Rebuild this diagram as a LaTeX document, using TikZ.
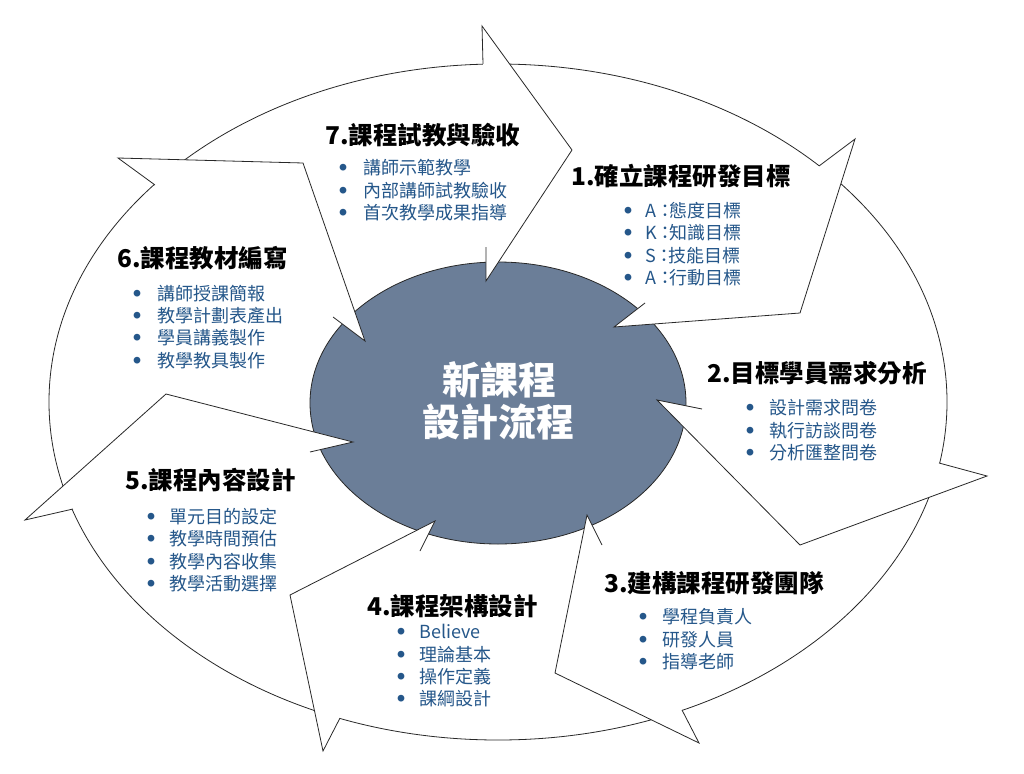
\documentclass[tikz,border=0pt]{standalone}
\usepackage{fontspec}
\setmainfont{Noto Sans CJK TC}
\definecolor{ellgrey}{RGB}{107,126,152}
\definecolor{bultext}{RGB}{37,87,138}
\definecolor{edge}{RGB}{40,40,40}
\tikzset{
  ring/.style={draw=edge, line width=0.8pt, line join=miter},
  ttl/.style={font=\fontsize{24.5}{28}\selectfont\bfseries, anchor=base west, inner sep=0pt, text=black},
  bul/.style={font=\fontsize{18}{22}\selectfont, anchor=base west, inner sep=0pt, text=bultext},
  ctr/.style={font=\fontsize{38}{42}\selectfont\bfseries, anchor=base, inner sep=0pt, text=white}
}
\newcommand\arrowhead[5]{%
  \fill[white] #1 -- #2 -- #3 -- #4 -- #5 -- cycle;
  \draw[ring] #1 -- #2 -- #3 -- #4 -- #5;}
\newcommand\bigdot{\makebox[0pt][c]{\raisebox{4pt}{\fontsize{7.5}{8}\selectfont ●}}}
% name, bullet x, gap to text, baseline y, text
\newcommand\bitem[5]{%
  \node[bul] (#1) at (#2,#4) {\makebox[#3pt][l]{\bigdot}#5};}
\newcommand\kc{：\kern-5pt}
\begin{document}
\begin{tikzpicture}[x=1pt,y=-1pt]
\useasboundingbox (0,0) rectangle (1024,773);
\fill[white] (0,0) rectangle (1024,773);
% outer ring
\filldraw[ring, fill=white] (498,402) ellipse [x radius=449pt, y radius=338pt];
% centre
\filldraw[ring, fill=ellgrey] (498,403) ellipse [x radius=188pt, y radius=141pt];
% arrow heads: outer shoulder, outer barb, tip, inner barb, inner shoulder
\arrowhead{(483,64)}{(482,26)}{(572,150)}{(486,281)}{(486,247)}
\arrowhead{(819,166)}{(855,139)}{(800,313)}{(614,327)}{(645,303)}
\arrowhead{(939,463)}{(987,476)}{(800,545)}{(657,400)}{(702,409)}
\arrowhead{(682,710)}{(699,743)}{(555,673)}{(587,515)}{(602,545)}
\arrowhead{(340,718)}{(323,751)}{(290,595)}{(435,521)}{(420,551)}
\arrowhead{(73,509)}{(25,520)}{(166,394)}{(353,442)}{(310,452)}
\arrowhead{(155,185)}{(118,158)}{(303,163)}{(365,341)}{(333,317)}
% centre text
\node[ctr] (c1) at (499,394) {新課程};
\node[ctr] (c2) at (498,436) {設計流程};
% titles
\node[ttl] (t7) at (325,144) {7.課程試教與驗收};
\node[ttl] (t6) at (117,267) {6.課程教材編寫};
\node[ttl] (t1) at (571,185) {1.確立課程研發目標};
\node[ttl] (t2) at (707,382) {2.目標學員需求分析};
\node[ttl] (t3) at (604,592) {3.建構課程研發團隊};
\node[ttl] (t4) at (367,615) {4.課程架構設計};
\node[ttl] (t5) at (125,489) {5.課程內容設計};
% bullets
\bitem{b7a}{343}{20}{174}{講師示範教學}
\bitem{b7b}{343}{20}{197}{內部講師試教驗收}
\bitem{b7c}{343}{20}{219}{首次教學成果指導}
\bitem{b6a}{137}{20}{300}{講師授課簡報}
\bitem{b6b}{137}{20}{322}{教學計劃表產出}
\bitem{b6c}{137}{20}{344}{學員講義製作}
\bitem{b6d}{137}{20}{367}{教學教具製作}
\bitem{b1a}{628}{17}{217}{A\kc 態度目標}
\bitem{b1b}{628}{17}{239}{K\kc 知識目標}
\bitem{b1c}{628}{17}{262}{S\kc 技能目標}
\bitem{b1d}{628}{17}{284}{A\kc 行動目標}
\bitem{b2a}{750}{19}{414}{設計需求問卷}
\bitem{b2b}{750}{19}{437}{執行訪談問卷}
\bitem{b2c}{750}{19}{459}{分析匯整問卷}
\bitem{b3a}{643}{19}{623}{學程負責人}
\bitem{b3b}{643}{19}{646}{研發人員}
\bitem{b3c}{643}{19}{668}{指導老師}
\bitem{b4a}{401}{18}{638}{Believe}
\bitem{b4b}{401}{18}{661}{理論基本}
\bitem{b4c}{401}{18}{683}{操作定義}
\bitem{b4d}{401}{18}{705}{課綱設計}
\bitem{b5a}{151}{18}{523}{單元目的設定}
\bitem{b5b}{151}{18}{545}{教學時間預估}
\bitem{b5c}{151}{18}{568}{教學內容收集}
\bitem{b5d}{151}{18}{590}{教學活動選擇}
\end{tikzpicture}
\end{document}
